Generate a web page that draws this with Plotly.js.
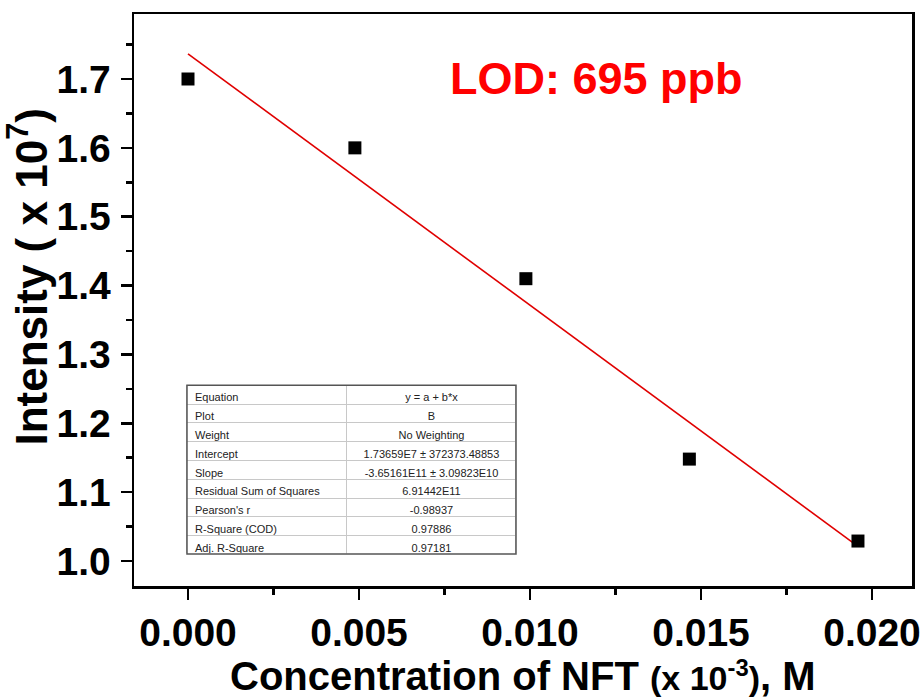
<!DOCTYPE html>
<html>
<head>
<meta charset="utf-8">
<script src="https://cdn.plot.ly/plotly-3.0.1.min.js"></script>
<style>html,body{margin:0;padding:0;background:#fff;}#chart{width:921px;height:700px;}</style>
</head>
<body>
<div id="chart"></div>
<script>
// Measured data (concentration, intensity in 1e7 units)
const concX = [0, 0.00488, 0.00988, 0.01466, 0.01959];
const intensity = [1.70, 1.60, 1.41, 1.148, 1.029];

// Linear fit parameters reported in the table
const fitIntercept = 1.73659e7;
const fitSlope = -3.65161e11;
const fitX = [0, 0.01959];
const fitY = fitX.map(x => (fitIntercept + fitSlope * x * 1e-3) / 1e7);

// Table contents
const tableLabels = ["Equation", "Plot", "Weight", "Intercept", "Slope",
  "Residual Sum of Squares", "Pearson's r", "R-Square (COD)", "Adj. R-Square"];
const tableValues = ["y = a + b*x", "B", "No Weighting", "1.73659E7 \u00b1 372373.48853",
  "-3.65161E11 \u00b1 3.09823E10", "6.91442E11", "-0.98937", "0.97886", "0.97181"];

const xTickVals = [0, 0.005, 0.010, 0.015, 0.020];
const xTickText = ["0.000", "0.005", "0.010", "0.015", "0.020"];
const yTickVals = [1.0, 1.1, 1.2, 1.3, 1.4, 1.5, 1.6, 1.7];
const yTickText = ["1.0", "1.1", "1.2", "1.3", "1.4", "1.5", "1.6", "1.7"];

const FONT = "Liberation Sans, Arial, sans-serif";

const traces = [
  {
    x: fitX, y: fitY, type: "scatter", mode: "lines",
    line: {color: "#e00000", width: 1.6}, hoverinfo: "skip", showlegend: false
  },
  {
    x: concX, y: intensity, type: "scatter", mode: "markers",
    marker: {symbol: "square", size: 13, color: "#000"}, showlegend: false
  },
  {
    type: "table",
    domain: {x: [0.0681, 0.491], y: [0.056, 0.351]},
    columnwidth: [160, 169],
    header: {
      values: [tableLabels[0], tableValues[0]],
      align: ["left", "center"],
      height: 18.8,
      font: {family: FONT, size: 11, color: "#222"},
      fill: {color: "#fff"},
      line: {color: "#c8c8c8", width: 1}
    },
    cells: {
      values: [tableLabels.slice(1), tableValues.slice(1)],
      align: ["left", "center"],
      height: 18.8,
      font: {family: FONT, size: 11, color: "#222"},
      fill: {color: "#fff"},
      line: {color: "#c8c8c8", width: 1}
    }
  }
];

const layout = {
  width: 921, height: 700,
  margin: {l: 134, r: 9, t: 14, b: 114},
  paper_bgcolor: "#fff", plot_bgcolor: "#fff",
  showlegend: false,
  xaxis: {
    range: [-0.001579, 0.02117],
    tickvals: xTickVals, ticktext: xTickText,
    ticks: "outside", ticklen: 11, tickwidth: 2.5, tickcolor: "#000",
    minor: {ticks: "outside", ticklen: 6, tickwidth: 2.5, tickcolor: "#000", dtick: 0.0025, tick0: 0},
    showline: true, linewidth: 2.5, linecolor: "#000", mirror: true,
    showgrid: false, zeroline: false,
    tickfont: {family: FONT, size: 39, color: "#000", weight: "bold"}
  },
  yaxis: {
    range: [0.9637, 1.7944],
    tickvals: yTickVals, ticktext: yTickText,
    ticks: "outside", ticklen: 11, tickwidth: 2.5, tickcolor: "#000",
    minor: {ticks: "outside", ticklen: 6, tickwidth: 2.5, tickcolor: "#000", dtick: 0.05, tick0: 1.0},
    showline: true, linewidth: 2.5, linecolor: "#000", mirror: true,
    showgrid: false, zeroline: false,
    ticklabelstandoff: 2,
    tickfont: {family: FONT, size: 39, color: "#000", weight: "bold"}
  },
  shapes: [
    {type: "rect", xref: "paper", yref: "paper", x0: 0.0681, x1: 0.491, y0: 0.056, y1: 0.351,
     line: {color: "#555", width: 1.5}, layer: "above"}
  ],
  annotations: [
    {text: "LOD: 695 ppb", xref: "paper", yref: "paper", x: 0.594, y: 0.888,
     xanchor: "center", yanchor: "middle", showarrow: false,
     font: {family: FONT, size: 45, color: "#ff0000", weight: "bold"}},
    {text: "Intensity ( x 10<sup>7</sup>)", xref: "paper", yref: "paper", x: -0.137, y: 0.54,
     xanchor: "center", yanchor: "middle", textangle: -90, showarrow: false,
     font: {family: FONT, size: 44, color: "#000", weight: "bold"}},
    {text: "Concentration of NFT <span style='font-size:34px'>(x 10<sup>-3</sup>)</span>, M",
     xref: "paper", yref: "paper", x: 0.5, y: -0.157,
     xanchor: "center", yanchor: "middle", showarrow: false,
     font: {family: FONT, size: 40, color: "#000", weight: "bold"}}
  ]
};

Plotly.newPlot("chart", traces, layout, {displayModeBar: false, staticPlot: true});
</script>
</body>
</html>
